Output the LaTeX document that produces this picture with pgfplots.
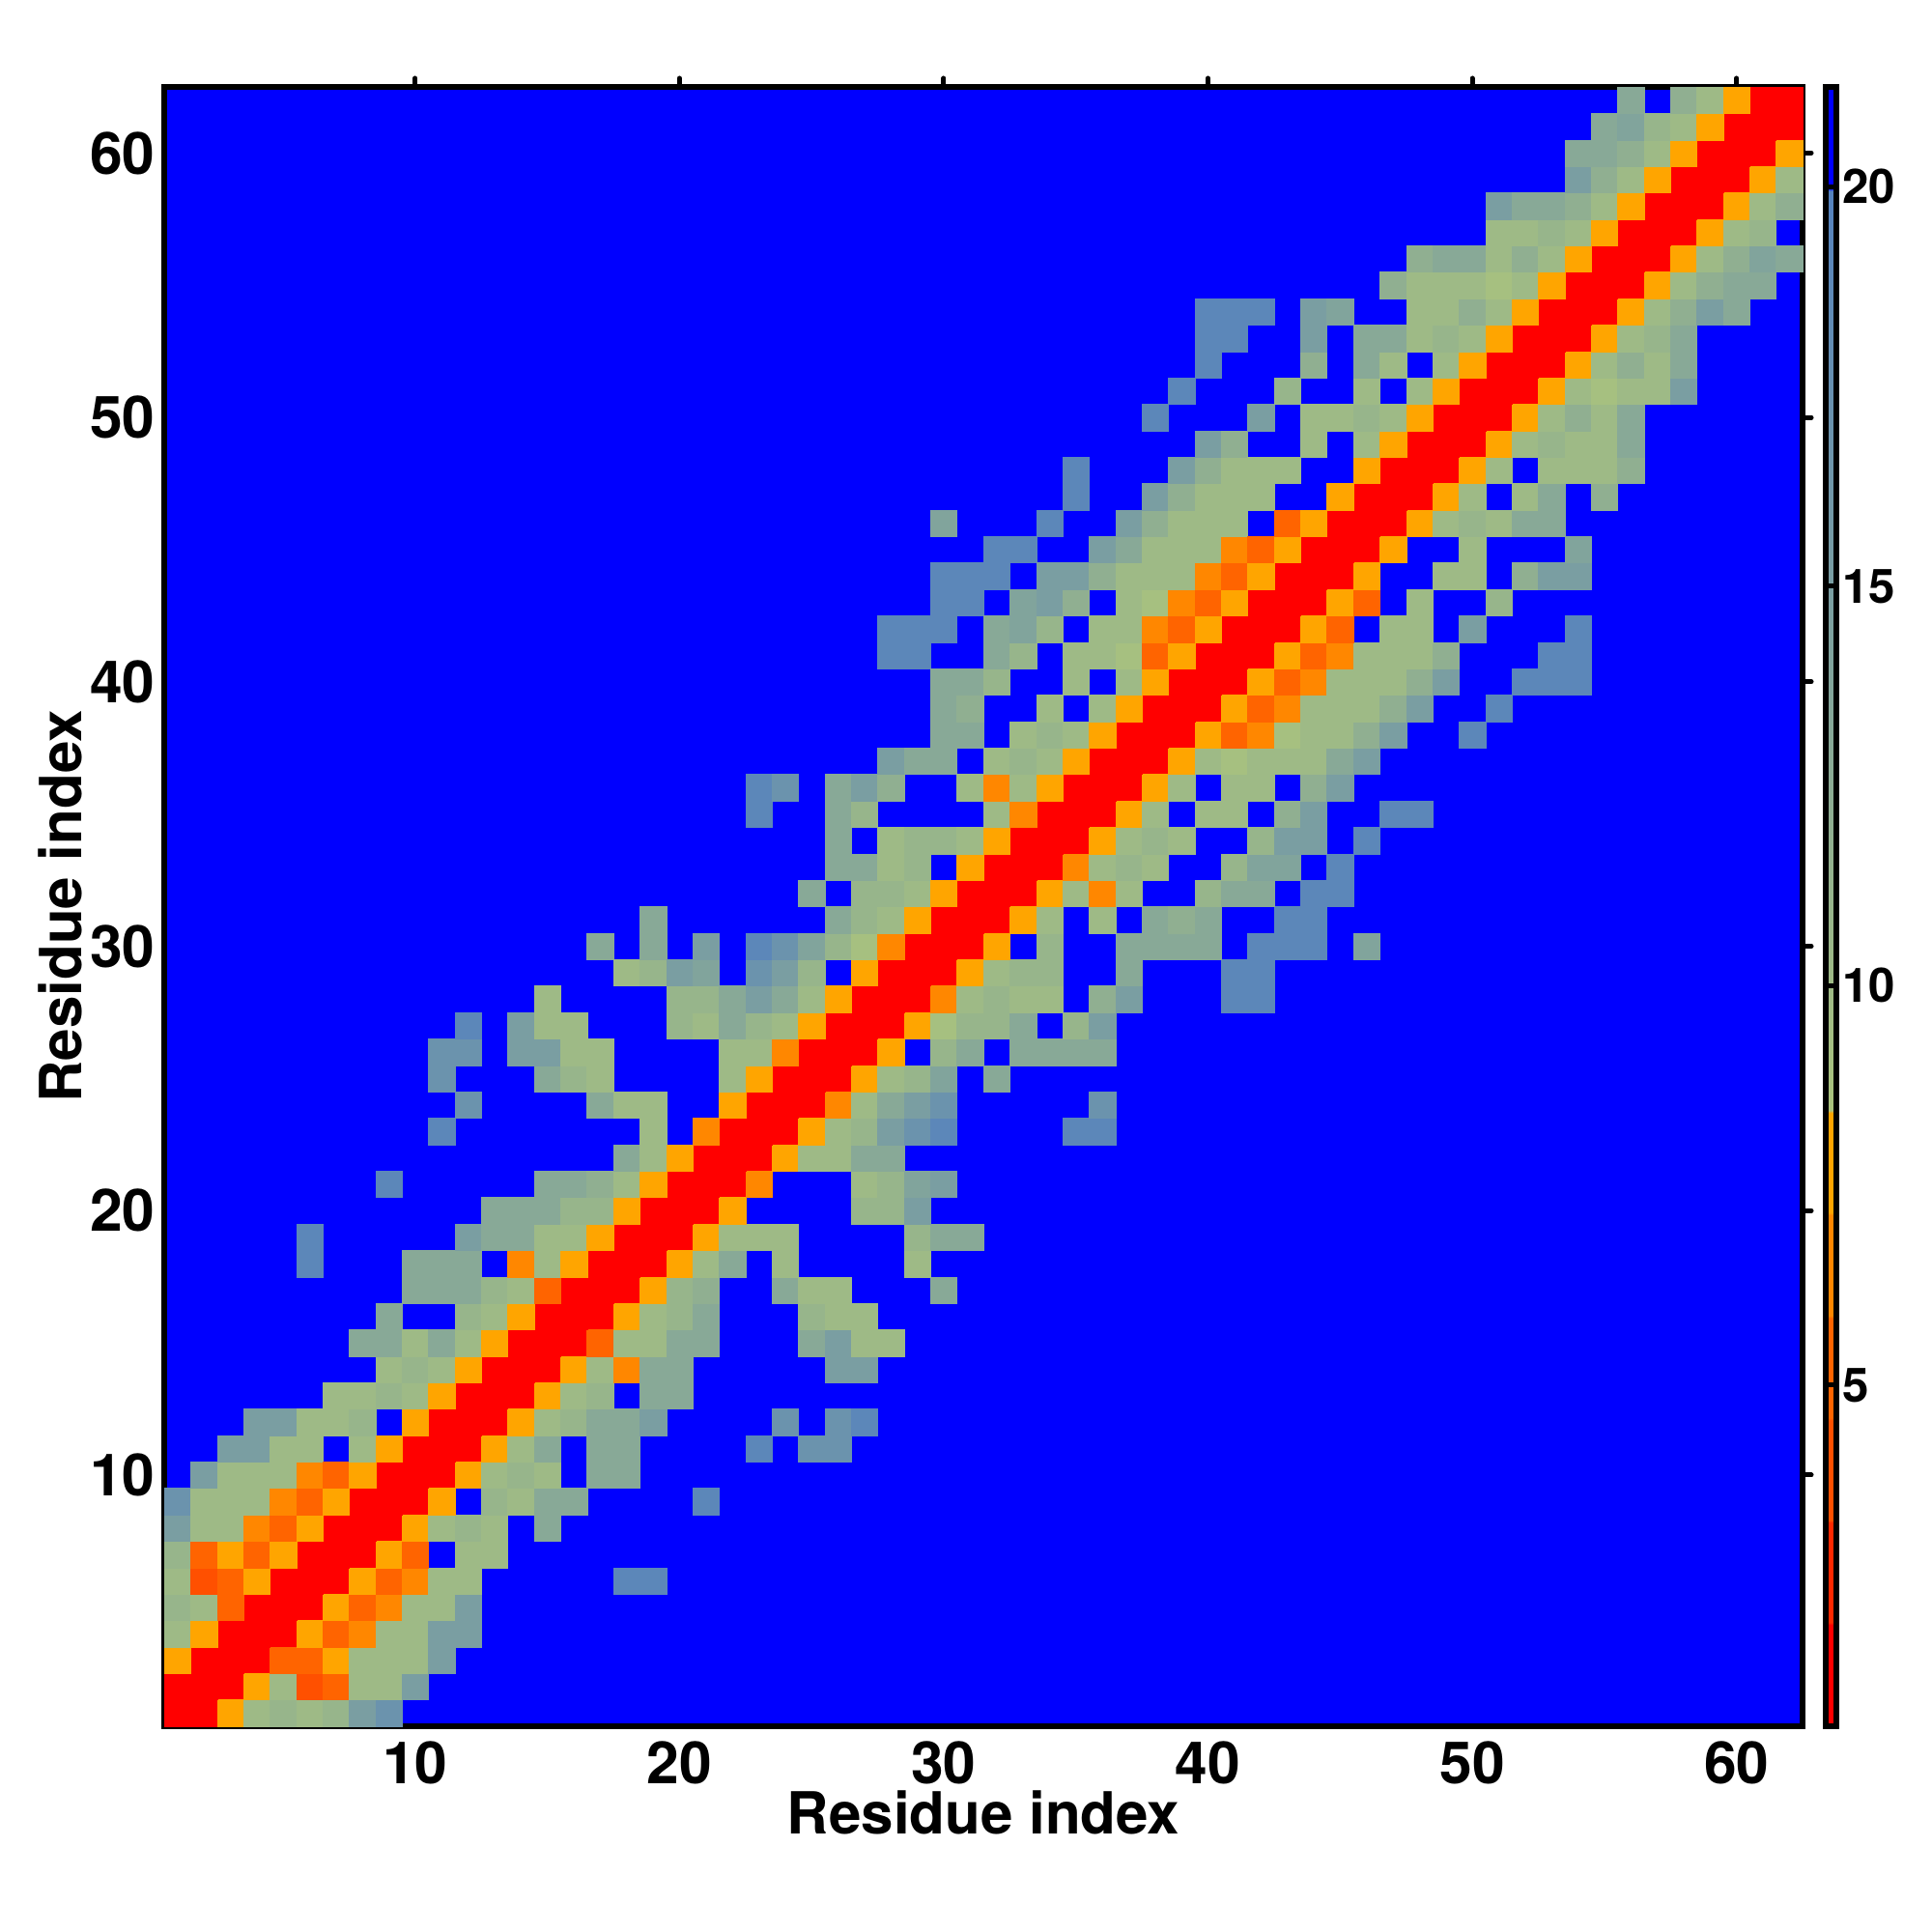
\documentclass[border=0pt]{standalone}
\usepackage{fontspec}
\setmainfont{TeX Gyre Heros}
\usepackage{pgfplots}
\usepackage{pgfplotstable}
\pgfplotsset{compat=1.18}
\pgfplotsset{/pgf/number format/assume math mode=true}
\pgfplotstableread[row sep=\\]{
x y v\\
1 1 1\\2 2 1\\3 3 1\\4 4 1\\5 5 1\\6 6 1\\7 7 1\\8 8 1\\9 9 1\\10 10 1\\11 11 1\\12 12 1\\13 13 1\\14 14 1\\15 15 1\\16 16 1\\17 17 1\\18 18 1\\19 19 1\\20 20 1\\21 21 1\\
22 22 1\\23 23 1\\24 24 1\\25 25 1\\26 26 1\\27 27 1\\28 28 1\\29 29 1\\30 30 1\\31 31 1\\32 32 1\\33 33 1\\34 34 1\\35 35 1\\36 36 1\\37 37 1\\38 38 1\\39 39 1\\40 40 1\\41 41 1\\
42 42 1\\43 43 1\\44 44 1\\45 45 1\\46 46 1\\47 47 1\\48 48 1\\49 49 1\\50 50 1\\51 51 1\\52 52 1\\53 53 1\\54 54 1\\55 55 1\\56 56 1\\57 57 1\\58 58 1\\59 59 1\\60 60 1\\61 61 1\\62 62 1\\
2 1 1\\3 2 1\\4 3 1\\5 4 1\\6 5 1\\7 6 1\\8 7 1\\9 8 1\\10 9 1\\11 10 1\\12 11 1\\13 12 1\\14 13 1\\15 14 1\\16 15 1\\17 16 1\\18 17 1\\19 18 1\\20 19 1\\21 20 1\\
22 21 1\\23 22 1\\24 23 1\\25 24 1\\26 25 1\\27 26 1\\28 27 1\\29 28 1\\30 29 1\\31 30 1\\32 31 1\\33 32 1\\34 33 1\\35 34 1\\36 35 1\\37 36 1\\38 37 1\\39 38 1\\40 39 1\\41 40 1\\
42 41 1\\43 42 1\\44 43 1\\45 44 1\\46 45 1\\47 46 1\\48 47 1\\49 48 1\\50 49 1\\51 50 1\\52 51 1\\53 52 1\\54 53 1\\55 54 1\\56 55 1\\57 56 1\\58 57 1\\59 58 1\\60 59 1\\61 60 1\\62 61 1\\
3 1 8\\4 1 10\\5 1 11\\6 1 10\\7 1 11\\8 1 15\\9 1 17\\
4 2 8\\5 2 10\\6 2 4\\7 2 5\\8 2 10\\9 2 10\\10 2 15\\
5 3 5\\6 3 5\\7 3 8\\8 3 10\\9 3 10\\10 3 10\\11 3 15\\
6 4 8\\7 4 5\\8 4 6\\9 4 10\\10 4 10\\11 4 15\\12 4 15\\
7 5 8\\8 5 5\\9 5 6\\10 5 10\\11 5 10\\12 5 15\\
8 6 8\\9 6 5\\10 6 6\\11 6 10\\12 6 10\\18 6 19\\19 6 19\\
9 7 8\\10 7 5\\12 7 10\\13 7 10\\
10 8 8\\11 8 10\\12 8 11\\13 8 10\\15 8 13\\
11 9 8\\13 9 11\\14 9 10\\15 9 13\\16 9 13\\21 9 19\\
12 10 8\\13 10 10\\14 10 11\\15 10 10\\17 10 13\\18 10 13\\
13 11 8\\14 11 10\\15 11 13\\17 11 13\\18 11 13\\23 11 19\\25 11 17\\26 11 17\\
14 12 8\\15 12 10\\16 12 11\\17 12 13\\18 12 13\\19 12 15\\24 12 17\\26 12 17\\27 12 19\\
15 13 8\\16 13 10\\17 13 11\\19 13 13\\20 13 13\\
16 14 8\\17 14 10\\18 14 6\\19 14 13\\20 14 13\\26 14 15\\27 14 15\\
17 15 5\\18 15 10\\19 15 10\\20 15 13\\21 15 13\\25 15 13\\26 15 15\\27 15 10\\28 15 10\\
18 16 8\\19 16 10\\20 16 11\\21 16 13\\25 16 11\\26 16 10\\27 16 10\\
19 17 8\\20 17 11\\21 17 12\\24 17 13\\25 17 10\\26 17 10\\30 17 13\\
20 18 8\\21 18 10\\22 18 13\\24 18 10\\29 18 10\\
21 19 8\\22 19 10\\23 19 10\\24 19 10\\29 19 11\\30 19 13\\31 19 13\\
22 20 8\\27 20 11\\28 20 11\\29 20 15\\
23 21 6\\27 21 10\\28 21 11\\29 21 14\\30 21 15\\
24 22 8\\25 22 10\\26 22 10\\27 22 13\\28 22 13\\
25 23 8\\26 23 10\\27 23 11\\28 23 15\\29 23 17\\30 23 19\\35 23 19\\36 23 19\\
26 24 6\\27 24 10\\28 24 13\\29 24 15\\30 24 17\\36 24 17\\
27 25 8\\28 25 10\\29 25 11\\30 25 14\\32 25 13\\
28 26 8\\30 26 11\\31 26 13\\33 26 13\\34 26 13\\35 26 13\\36 26 13\\
29 27 8\\30 27 9\\31 27 11\\32 27 11\\33 27 13\\35 27 11\\36 27 15\\
30 28 6\\31 28 10\\32 28 11\\33 28 10\\34 28 10\\36 28 12\\37 28 15\\41 28 19\\42 28 19\\
31 29 8\\32 29 10\\33 29 11\\34 29 11\\37 29 13\\41 29 19\\42 29 19\\
32 30 8\\34 30 11\\37 30 13\\38 30 13\\39 30 13\\40 30 13\\42 30 19\\43 30 19\\44 30 19\\46 30 14\\
33 31 8\\34 31 10\\36 31 10\\38 31 13\\39 31 12\\40 31 13\\43 31 19\\44 31 19\\
34 32 8\\35 32 10\\36 32 6\\37 32 10\\40 32 11\\41 32 13\\42 32 13\\44 32 19\\45 32 19\\
35 33 6\\36 33 10\\37 33 11\\38 33 10\\41 33 11\\42 33 14\\43 33 14\\45 33 19\\
36 34 8\\37 34 10\\38 34 11\\39 34 10\\42 34 11\\43 34 15\\44 34 15\\46 34 19\\
37 35 8\\38 35 10\\40 35 10\\41 35 10\\43 35 12\\44 35 15\\47 35 19\\48 35 19\\
38 36 8\\39 36 10\\41 36 10\\42 36 10\\44 36 12\\45 36 15\\
39 37 8\\40 37 10\\41 37 9\\42 37 10\\43 37 10\\44 37 10\\45 37 13\\46 37 15\\
40 38 8\\41 38 5\\42 38 6\\43 38 9\\44 38 10\\45 38 10\\46 38 12\\47 38 15\\50 38 19\\
41 39 8\\42 39 5\\43 39 6\\44 39 10\\45 39 10\\46 39 10\\47 39 12\\48 39 15\\51 39 19\\
42 40 8\\43 40 5\\44 40 6\\45 40 10\\46 40 10\\47 40 10\\48 40 12\\49 40 15\\52 40 19\\53 40 19\\54 40 19\\
43 41 8\\44 41 5\\45 41 6\\46 41 10\\47 41 10\\48 41 10\\49 41 12\\53 41 19\\54 41 19\\
44 42 8\\45 42 5\\47 42 10\\48 42 10\\50 42 15\\54 42 19\\
45 43 8\\46 43 5\\48 43 10\\51 43 11\\
46 44 8\\49 44 10\\50 44 10\\52 44 12\\53 44 15\\54 44 15\\
47 45 8\\50 45 10\\54 45 14\\
48 46 8\\49 46 10\\50 46 11\\51 46 10\\52 46 13\\53 46 13\\
49 47 8\\50 47 10\\52 47 10\\53 47 13\\55 47 12\\
50 48 8\\51 48 10\\53 48 10\\54 48 10\\55 48 10\\56 48 12\\
51 49 8\\52 49 10\\53 49 11\\54 49 10\\55 49 10\\56 49 13\\
52 50 8\\53 50 10\\54 50 12\\55 50 10\\56 50 13\\
53 51 8\\54 51 10\\55 51 9\\56 51 10\\57 51 10\\58 51 15\\
54 52 8\\55 52 10\\56 52 12\\57 52 10\\58 52 13\\
55 53 8\\56 53 10\\57 53 11\\58 53 13\\
56 54 8\\57 54 10\\58 54 12\\59 54 15\\60 54 13\\
57 55 8\\58 55 10\\59 55 12\\60 55 13\\61 55 13\\
58 56 8\\59 56 10\\60 56 12\\61 56 14\\62 56 13\\
59 57 8\\60 57 10\\61 57 11\\
60 58 8\\61 58 10\\62 58 12\\
61 59 8\\62 59 10\\
62 60 8\\
}\contacts
\begin{document}
\begin{tikzpicture}
\path[use as bounding box] (-1.70cm,-2.13cm) rectangle ++(20cm,20cm);
\begin{axis}[
  at={(0,0)}, anchor=south west,
  scale only axis, width=16.96cm, height=16.97cm,
  xmin=0.5, xmax=62.5, ymin=0.5, ymax=62.5,
  axis line style={line width=0.06cm},
  axis background/.style={fill=blue},
  axis on top,
  xtick={10,20,30,40,50,60}, ytick={10,20,30,40,50,60},
  xtick pos=upper, ytick pos=upper,
  xticklabel pos=lower, yticklabel pos=lower,
  tick align=outside, major tick length=0.09cm,
  tick style={line width=0.05cm, line cap=round, black},
  ticklabel style={font=\fontsize{17.2}{17.2}\selectfont\bfseries},
  xticklabel style={yshift=0.06cm},
  yticklabel style={xshift=0.12cm},
  xlabel={Residue index}, ylabel={Residue index},
  label style={font=\fontsize{17.1}{17.1}\selectfont\bfseries},
  xlabel style={at={(axis description cs:0.5,0)}, anchor=base, yshift=-1.12cm},
  ylabel style={at={(axis description cs:0,0.5)}, anchor=base, yshift=0.85cm},
  colormap={contact}{
    rgb255(0cm)=(255,0,0) rgb255(1.27cm)=(255,0,0)
    rgb255(1.30cm)=(255,40,0) rgb255(2.55cm)=(255,40,0)
    rgb255(2.58cm)=(255,80,0) rgb255(3.83cm)=(255,80,0)
    rgb255(3.86cm)=(255,100,0) rgb255(5.11cm)=(255,100,0)
    rgb255(5.14cm)=(255,135,0) rgb255(6.40cm)=(255,135,0)
    rgb255(6.43cm)=(255,165,0) rgb255(7.68cm)=(255,165,0)
    rgb255(7.71cm)=(170,195,125) rgb255(19.22cm)=(85,130,190)
    rgb255(19.25cm)=(0,0,255) rgb255(20.52cm)=(0,0,255)
  },
  point meta min=0.73, point meta max=21.25,
  colorbar,
  colorbar style={
    at={(1.01415,0.5)}, anchor=west,
    width=0.11cm,
    ytick={5,10,15,20},
    axis line style={line width=0.06cm},
    major tick length=0.07cm,
    tick style={line width=0.05cm, line cap=round, black},
    yticklabel style={font=\fontsize{14}{14}\selectfont\bfseries, xshift=-0.06cm},
  },
]
\addplot[scatter, only marks, mark=square*, mark size=3.893pt,
  scatter/use mapped color={draw=mapped color, fill=mapped color},
  mark options={line width=0.1pt}, point meta=explicit]
  table[x=x, y=y, meta=v] {\contacts};
\addplot[scatter, only marks, mark=square*, mark size=3.893pt,
  scatter/use mapped color={draw=mapped color, fill=mapped color},
  mark options={line width=0.1pt}, point meta=explicit]
  table[x=y, y=x, meta=v] {\contacts};
\end{axis}
\end{tikzpicture}
\end{document}
